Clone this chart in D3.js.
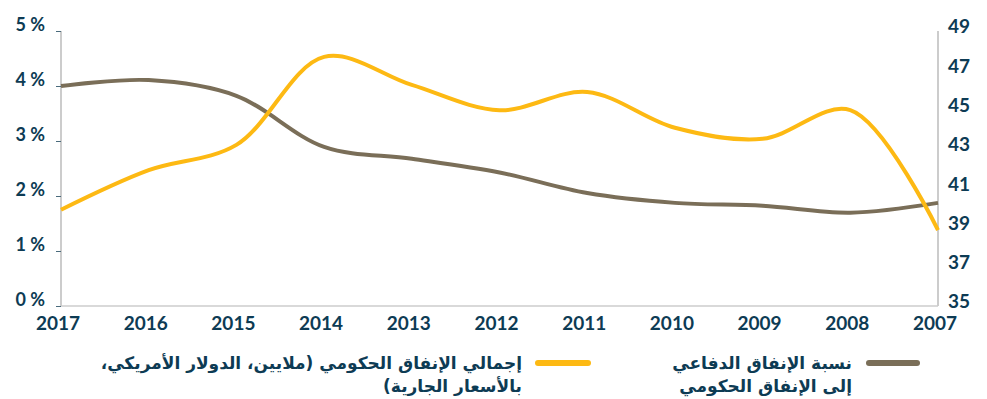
<!DOCTYPE html>
<meta charset="utf-8">
<title>Defence spending chart</title>
<style>
  body { margin: 0; background: #fff; }
  text { font-family: "Lato", "Open Sans", sans-serif; font-weight: 700; fill: #0d3b54; }
  .legend text { font-family: "DejaVu Sans", sans-serif; font-weight: 700; font-size: 17px; }
  .line { fill: none; stroke-width: 4; }
</style>
<body>
<script src="https://cdn.jsdelivr.net/npm/d3@7"></script>
<script>
  // years, right to left as in the picture (2017 on the left)
  var years = ["2017", "2016", "2015", "2014", "2013", "2012", "2011", "2010", "2009", "2008", "2007"];
  // total government spending, % (left axis)
  var govSpending = [1.75, 2.47, 2.93, 4.53, 4.02, 3.56, 3.89, 3.24, 3.04, 3.56, 1.38];
  // defence share of government spending (right axis)
  var defenceShare = [46.2, 46.5, 45.7, 43.1, 42.5, 41.8, 40.75, 40.25, 40.1, 39.75, 40.25];
  var leftTicks = [0, 1, 2, 3, 4, 5];
  var rightTicks = [35, 37, 39, 41, 43, 45, 47, 49];

  var width = 987, height = 399;
  var margin = {left: 61, right: 938, top: 31, bottom: 306};

  var svg = d3.select("body").append("svg")
      .attr("width", width)
      .attr("height", height);

  var x = d3.scalePoint().domain(years).range([margin.left, margin.right]);
  var yL = d3.scaleLinear().domain([0, 5]).range([margin.bottom, margin.top]);
  var yR = d3.scaleLinear().domain([35, 49]).range([margin.bottom, margin.top]);

  // bottom base line
  svg.append("line")
      .attr("x1", margin.left).attr("x2", margin.right)
      .attr("y1", margin.bottom).attr("y2", margin.bottom)
      .attr("stroke", "#cccccc").attr("stroke-width", 1.5);

  // left axis
  var axL = svg.append("g")
      .attr("transform", "translate(" + margin.left + ",0)")
      .call(d3.axisLeft(yL).tickValues(leftTicks).tickSize(5).tickPadding(11)
            .tickFormat(function(d) { return d + " %"; }));
  axL.select(".domain").attr("stroke", "#cccccc").attr("stroke-width", 2)
     .attr("d", "M0," + margin.top + "V" + margin.bottom);
  axL.selectAll(".tick line").attr("stroke", "#4a6b7c");
  axL.selectAll(".tick text").attr("font-size", 18).attr("dy", "-0.05em").attr("fill", "#0d3b54");

  // right axis
  var axR = svg.append("g")
      .attr("transform", "translate(" + margin.right + ",0)")
      .call(d3.axisRight(yR).tickValues(rightTicks).tickSize(0).tickPadding(10));
  axR.select(".domain").attr("stroke", "#cccccc").attr("stroke-width", 2)
     .attr("d", "M0," + margin.top + "V" + margin.bottom);
  axR.selectAll(".tick text").attr("font-size", 19).attr("dy", "0.1em").attr("fill", "#0d3b54");

  // year labels
  svg.append("g").selectAll("text")
      .data(years)
      .enter().append("text")
      .attr("x", function(d) { return x(d) - 3; })
      .attr("y", 330)
      .attr("text-anchor", "middle")
      .attr("font-size", 19)
      .text(function(d) { return d; });

  var lineL = d3.line()
      .x(function(d, i) { return x(years[i]); })
      .y(function(d) { return yL(d); })
      .curve(d3.curveCatmullRom);
  var lineR = d3.line()
      .x(function(d, i) { return x(years[i]); })
      .y(function(d) { return yR(d); })
      .curve(d3.curveCatmullRom);

  svg.append("path").attr("class", "line")
      .attr("stroke", "#7a6e58")
      .attr("d", lineR(defenceShare));
  svg.append("path").attr("class", "line")
      .attr("stroke", "#fdb913")
      .attr("d", lineL(govSpending));

  // legend
  var legend = svg.append("g").attr("class", "legend");
  var items = [
    { color: "#fdb913", x1: 538, x2: 588, tx: 522,
      lines: ["إجمالي الإنفاق الحكومي (ملايين، الدولار الأمريكي،", "بالأسعار الجارية)"] },
    { color: "#7a6e58", x1: 869, x2: 917, tx: 852,
      lines: ["نسبة الإنفاق الدفاعي", "إلى الإنفاق الحكومي"] }
  ];
  items.forEach(function(it) {
    legend.append("line")
        .attr("x1", it.x1).attr("x2", it.x2)
        .attr("y1", 363).attr("y2", 363)
        .attr("stroke", it.color)
        .attr("stroke-width", 6)
        .attr("stroke-linecap", "round");
    it.lines.forEach(function(t, i) {
      legend.append("text")
          .attr("x", it.tx)
          .attr("y", 369 + i * 23)
          .attr("direction", "rtl")
          .attr("text-anchor", "start")
          .text(t);
    });
  });
</script>
</body>
